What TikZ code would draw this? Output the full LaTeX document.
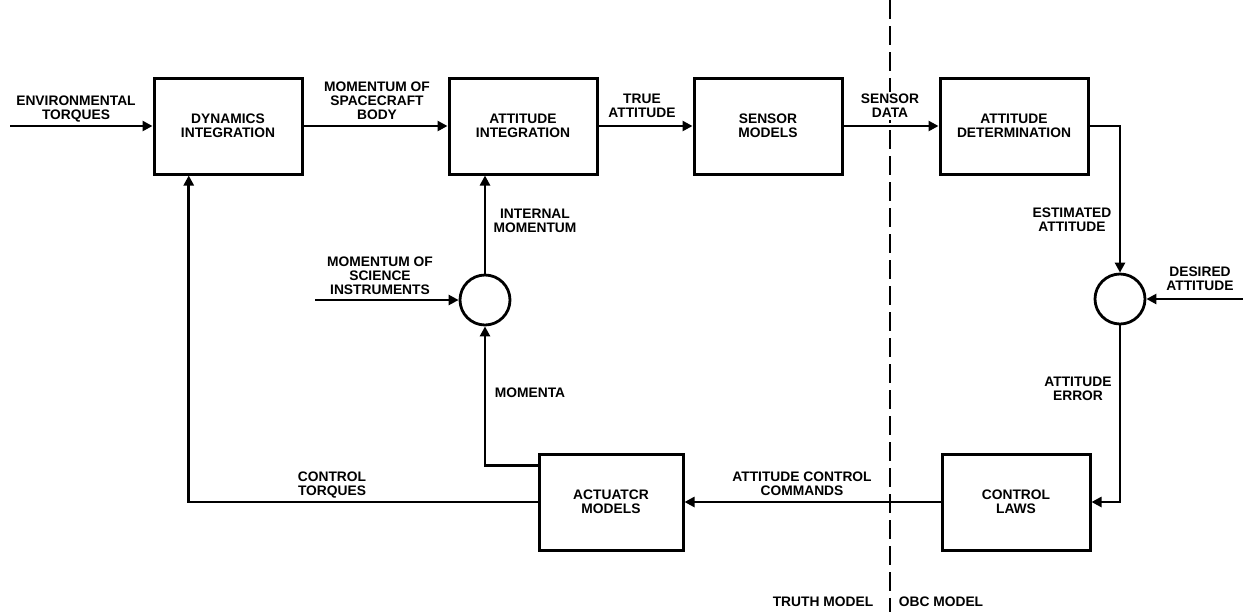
\documentclass[tikz,border=0pt]{standalone}
\usepackage{fontspec}
\setmainfont{Liberation Sans}
\usetikzlibrary{arrows.meta,calc}
\begin{document}
\begin{tikzpicture}[x=0.5pt,y=-0.5pt,
  blk/.style={draw,line width=1.5pt,minimum width=74pt,minimum height=48pt,align=center,inner sep=0pt,font=\fontsize{6.9}{7}\selectfont\bfseries},
  sumnode/.style={draw,circle,line width=1.4pt,minimum size=25pt,inner sep=0pt},
  lbl/.style={align=center,inner sep=1pt,font=\fontsize{6.9}{7}\selectfont\bfseries},
  flow/.style={line width=1.4pt,-{Triangle[length=5pt,width=5pt]}},
  divider/.style={line width=1.2pt,dash pattern=on 9.5pt off 3.5pt}]
\useasboundingbox (0,0) rectangle (1243,612);
% truth model / obc model split
\coordinate (divtop) at (890,0);
\coordinate (divbot) at (890,612);
\draw[divider] (divtop) -- (divbot);
% blocks
\node[blk] (dyn) at (228,126) {DYNAMICS\\INTEGRATION};
\node[blk] (att) at (523,126) {ATTITUDE\\INTEGRATION};
\node[blk] (sens) at (768,126) {SENSOR\\MODELS};
\node[blk] (det) at (1014,126) {ATTITUDE\\DETERMINATION};
\node[blk,minimum width=72pt] (act) at (611,502) {ACTUATCR\\MODELS};
\node[blk] (ctl) at (1016,502) {CONTROL\\LAWS};
\node[sumnode] (sumL) at (485,300) {};
\node[sumnode] (sumR) at (1120,299) {};
% free ends
\coordinate (envin) at (10,126);
\coordinate (sciin) at (315,300);
\coordinate (desin) at (1243,299);
\coordinate (momout) at ($(act.north west)!0.13!(act.south west)$);
\coordinate (ctin) at ($(dyn.south west)!0.24!(dyn.south east)$);
% connectors
\draw[flow] (envin) -- (dyn);
\draw[flow] (dyn) -- (att);
\draw[flow] (att) -- (sens);
\draw[flow] (sens) -- (det);
\draw[flow] (det.east) -| (sumR.north);
\draw[flow] (desin) -- (sumR);
\draw[flow] (sumR.south) |- (ctl.east);
\draw[flow] (ctl) -- (act);
\draw[flow] (act.west) -| (ctin);
\draw[flow] (momout) -| (sumL.south);
\draw[flow] (sciin) -- (sumL);
\draw[flow] (sumL.north) -- (sumL.north |- att.south);
% labels
\node[lbl] (envlbl) at (76,109) {ENVIRONMENTAL\\TORQUES};
\node[lbl] (msclbl) at (377,101) {MOMENTUM OF\\SPACECRAFT\\BODY};
\node[lbl] (truelbl) at (642,106) {TRUE\\ATTITUDE};
\node[lbl,fill=white] (sdlbl) at (890,106) {SENSOR\\DATA};
\node[lbl] (estlbl) at (1072,220) {ESTIMATED\\ATTITUDE};
\node[lbl] (deslbl) at (1200,279) {DESIRED\\ATTITUDE};
\node[lbl] (errlbl) at (1078,389) {ATTITUDE\\ERROR};
\node[lbl] (intlbl) at (535,221) {INTERNAL\\MOMENTUM};
\node[lbl] (scilbl) at (380,276) {MOMENTUM OF\\SCIENCE\\INSTRUMENTS};
\node[lbl] (momlbl) at (530,393) {MOMENTA};
\node[lbl] (ctqlbl) at (332,485) {CONTROL\\TORQUES};
\node[lbl] (acclbl) at (802,484) {ATTITUDE CONTROL\\COMMANDS};
\node[lbl] (truthlbl) at (823,602) {TRUTH MODEL};
\node[lbl] (obclbl) at (941,602) {OBC MODEL};
\end{tikzpicture}
\end{document}
